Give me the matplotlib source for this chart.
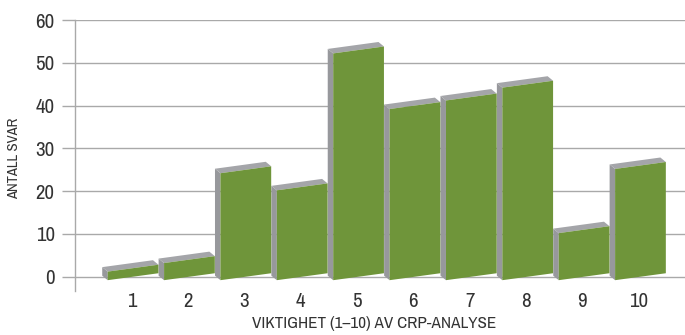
import matplotlib
matplotlib.use('Agg')
import matplotlib.pyplot as plt
from matplotlib.patches import Polygon
from matplotlib import font_manager

# answers per importance score
scores = [1, 2, 3, 4, 5, 6, 7, 8, 9, 10]
answers = [2, 4, 25, 21, 53, 40, 42, 45, 11, 26]
yticks = [0, 10, 20, 30, 40, 50, 60]
xlabel = 'VIKTIGHET (1–10) AV CRP-ANALYSE'
ylabel = 'ANTALL SVAR'

# prefer a narrow face if one is installed
fonts = font_manager.fontManager.ttflist
narrow = [f.name for f in fonts if 'Narrow' in f.name or 'Condensed' in f.name]
stretch = 'normal'
if narrow:
    font = narrow[0]
elif any(f.name == 'DejaVu Sans' and f.stretch == 'condensed' for f in fonts):
    font, stretch = 'DejaVu Sans', 'condensed'
else:
    font = 'DejaVu Sans'
condensed = bool(narrow) or stretch == 'condensed'
plt.rcParams['font.family'] = [font, 'DejaVu Sans']
plt.rcParams['font.stretch'] = stretch

GREEN = '#6f953a'
SIDE = '#97989c'
TOP = '#a4a5a9'
GRID = '#a9a9a9'
TEXT = '#333333'

# fake 3d: front face is sheared, depth goes up and to the left
FRONT_L, FRONT_R = -0.42, 0.48
SLOPE = 1.8          # y units per x unit on the front face
DX, DY = -0.097, 1.05


def bar3d(ax, x, v):
    xl, xr = x + FRONT_L, x + FRONT_R
    xc = (xl + xr) / 2
    yl = SLOPE * (xl - xc)
    yr = SLOPE * (xr - xc)
    front = [(xl, yl), (xr, yr), (xr, yr + v), (xl, yl + v)]
    side = [(xl + DX, yl + DY), (xl, yl), (xl, yl + v), (xl + DX, yl + v + DY)]
    top = [(xl, yl + v), (xr, yr + v), (xr + DX, yr + v + DY), (xl + DX, yl + v + DY)]
    ax.add_patch(Polygon(side, closed=True, fc=SIDE, ec='none', zorder=3))
    ax.add_patch(Polygon(top, closed=True, fc=TOP, ec='none', zorder=3))
    ax.add_patch(Polygon(front, closed=True, fc=GREEN, ec='none', zorder=4))


fig = plt.figure(figsize=(6.85, 3.35), dpi=100)
ax = fig.add_axes([75 / 685, 1 - 291 / 335, 1 - 75 / 685, (291 - 20) / 335])

for x, v in zip(scores, answers):
    bar3d(ax, x, v)

ax.set_xlim(0, 10.82)
ax.set_ylim(-3.34, 60)
ax.set_yticks(yticks)
ax.set_xticks(scores)
ax.set_xticklabels([str(s) for s in scores])

for y in yticks:
    ax.axhline(y, color=GRID, lw=1.0, zorder=1)

for s in ['top', 'right', 'bottom']:
    ax.spines[s].set_visible(False)
ax.spines['left'].set_color(GRID)
ax.spines['left'].set_linewidth(1.0)

tick_size = 15 if condensed else 12.5
ax.tick_params(axis='y', length=9.6, width=1.0, color=GRID, pad=5,
               labelsize=tick_size, labelcolor=TEXT)
ax.tick_params(axis='x', length=0, pad=0.5, labelsize=tick_size, labelcolor=TEXT)

ax.set_xlabel(xlabel, fontsize=12.3 if condensed else 10.2, color=TEXT, va='top')
ax.xaxis.set_label_coords(0.491, -0.094)
ax.set_ylabel(ylabel, fontsize=10.6, color=TEXT)
ax.yaxis.set_label_coords(-0.0885, 0.49)

fig.savefig('out.png', dpi=100)
